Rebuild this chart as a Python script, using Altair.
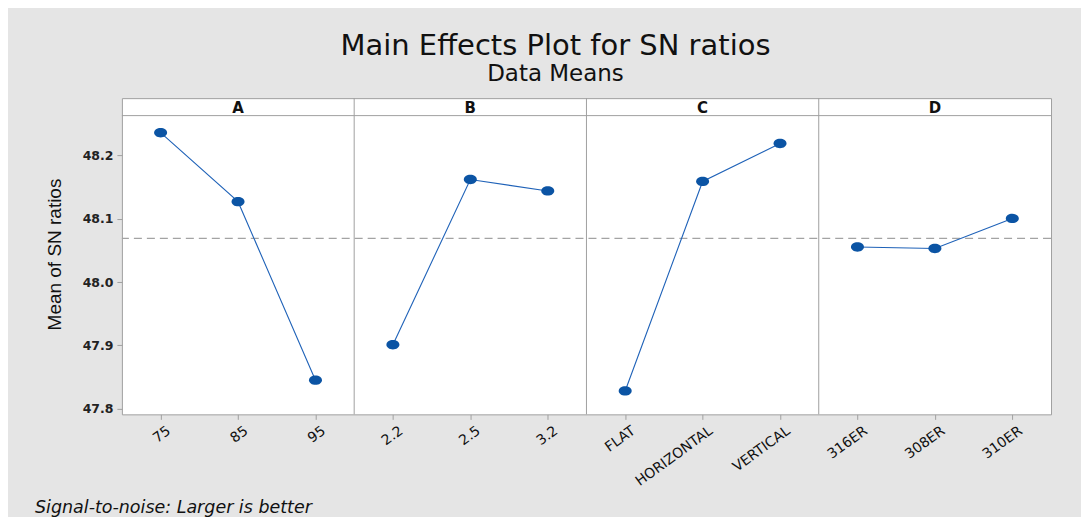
import altair as alt
import pandas as pd

# ---- data ----
factors = ["A", "B", "C", "D"]
levels_A = ["75", "85", "95"]
values_A = [48.236, 48.127, 47.845]
levels_B = ["2.2", "2.5", "3.2"]
values_B = [47.901, 48.162, 48.144]
levels_C = ["FLAT", "HORIZONTAL", "VERTICAL"]
values_C = [47.828, 48.159, 48.219]
levels_D = ["316ER", "308ER", "310ER"]
values_D = [48.0555, 48.053, 48.1006]
grand_mean = [48.069]
y_ticks = [47.8, 47.9, 48.0, 48.1, 48.2]
y_bottom = 47.791      # lower end of the plot area
y_panel_top = 48.263   # top of the plotting panels (bottom of the header strip)
y_top = 48.2906        # top of the header strip

levels = [levels_A, levels_B, levels_C, levels_D]
values = [values_A, values_B, values_C, values_D]

# ---- tables built from the lists ----
rows = []
for i, (f, lv, vals) in enumerate(zip(factors, levels, values)):
    for j, (l, v) in enumerate(zip(lv, vals)):
        rows.append({"factor": f, "level": l, "pos": i * 3 + j + 0.5, "value": v})
df = pd.DataFrame(rows)
tick_pos = list(df["pos"])
tick_lab = list(df["level"])
headers = pd.DataFrame({"factor": factors, "pos": [i * 3 + 1.5 for i in range(len(factors))]})
borders = pd.DataFrame({"pos": [i * 3 for i in range(1, len(factors))]})

W, H = 930, 316.5
GRID = "#a0a0a0"
LINE_C = "#1f62b8"
PT_C = "#0b54a4"
FONT = "DejaVu Sans"
ELLIPSE = "M-1,0 A1,0.72 0 1,0 1,0 A1,0.72 0 1,0 -1,0 Z"

label_expr = "[" + ",".join("'" + t + "'" for t in tick_lab) + "][floor(datum.value)]"

xscale = alt.Scale(domain=[0, 3 * len(factors)], nice=False, zero=False)
yscale = alt.Scale(domain=[y_bottom, y_top], nice=False, zero=False)

x = alt.X(
    "pos:Q", scale=xscale,
    axis=alt.Axis(
        values=tick_pos, labelExpr=label_expr, title=None, grid=False, domain=False,
        labelAngle=-36, labelAlign="right", labelBaseline="top", labelOverlap=False,
        labelFont=FONT, labelFontSize=14, labelColor="#111",
        tickColor=GRID, tickSize=5, labelPadding=4, labelOffset=4,
    ),
)
y = alt.Y(
    "value:Q", scale=yscale,
    axis=alt.Axis(
        values=y_ticks, format=".1f", title="Mean of SN ratios", grid=False, domain=False,
        titleFont="Liberation Sans", titleFontSize=19, titleFontWeight="normal",
        titleColor="#111", titleX=-57, titleY=156, titleAngle=-90,
        titleAlign="center", titleBaseline="bottom", labelOverlap=False,
        labelFont=FONT, labelFontSize=12.5, labelFontWeight="bold",
        labelColor="#222", labelPadding=4, tickColor=GRID, tickSize=5,
    ),
)

base = alt.Chart(df)
mean_rule = alt.Chart(pd.DataFrame({"m": grand_mean})).mark_rule(
    strokeDash=[8, 5], color="#a3a3a3", strokeWidth=1.3
).encode(y=alt.Y("m:Q", scale=yscale))
panel_lines = alt.Chart(borders).mark_rule(color=GRID, strokeWidth=1).encode(
    x=alt.X("pos:Q", scale=xscale)
)
header_line = alt.Chart(pd.DataFrame({"h": [y_panel_top]})).mark_rule(
    color=GRID, strokeWidth=1
).encode(y=alt.Y("h:Q", scale=yscale))
header_text = alt.Chart(headers).mark_text(
    font=FONT, fontSize=15, fontWeight="bold", color="#111", baseline="middle"
).encode(x=alt.X("pos:Q", scale=xscale), y=alt.value(9.5), text="factor:N")
line = base.mark_line(color=LINE_C, strokeWidth=1.1).encode(x=x, y=y, detail="factor:N")
pts = base.mark_point(
    filled=True, size=169, color=PT_C, opacity=1, shape=ELLIPSE
).encode(x=x, y=y)
foot = alt.Chart(pd.DataFrame({"t": ["Signal-to-noise: Larger is better"]})).mark_text(
    font="DejaVu Sans", fontSize=17.5, fontStyle="italic", align="left",
    baseline="alphabetic", color="#111", dx=-87,
).encode(text="t:N", x=alt.value(0), y=alt.value(H + 98.5))

chart = alt.layer(
    mean_rule, panel_lines, header_line, header_text, line, pts, foot
).properties(
    width=W, height=H,
    title=alt.TitleParams(
        text="Main Effects Plot for SN ratios",
        subtitle="Data Means",
        font=FONT, fontSize=29, fontWeight="normal", color="#111",
        subtitleFont=FONT, subtitleFontSize=23, subtitleColor="#111",
        subtitlePadding=2, anchor="middle", frame="group", offset=12, dx=-31,
    ),
    background="#e5e5e5",
    padding={"left": 27, "top": 23, "right": 29, "bottom": 0},
).configure_view(
    stroke=GRID, strokeWidth=1, fill="white"
)

chart.save("out.html", embed_options={"renderer": "svg", "actions": False})
